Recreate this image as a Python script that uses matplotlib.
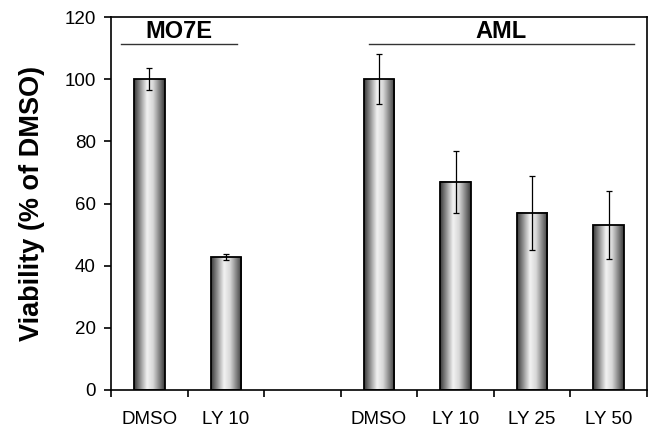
import numpy as np
import matplotlib.pyplot as plt
from matplotlib.colors import LinearSegmentedColormap

plt.rcParams['font.family'] = ['Liberation Sans', 'DejaVu Sans']

# data
labels = ['DMSO', 'LY 10', 'DMSO', 'LY 10', 'LY 25', 'LY 50']
pos = [0, 1, 3, 4, 5, 6]
viability = [100, 42.7, 100, 67, 57, 53]
err = [3.5, 1.0, 8, 10, 12, 11]
groups = ['MO7E', 'AML']
group_span = [(-0.37, 1.14), (2.87, 6.33)]

fig = plt.figure(figsize=(6.56, 4.33), dpi=100)
ax = fig.add_axes([111/656, 1-390/433, 536/656, 373/433])

# cylinder-like shading for the bars
cmap = LinearSegmentedColormap.from_list('cyl', [(0, '#3a3a3a'), (0.18, '#8a8a8a'), (0.42, '#f2f2f2'),
                                                 (0.62, '#d8d8d8'), (0.85, '#7a7a7a'), (1, '#3a3a3a')])
grad = np.linspace(0, 1, 64).reshape(1, -1)
w = 0.4
for x, v in zip(pos, viability):
    ax.imshow(grad, cmap=cmap, extent=(x - w/2, x + w/2, 0, v), aspect='auto', zorder=2)
ax.bar(pos, viability, width=w, fill=False, edgecolor='black', linewidth=1.3, zorder=3)
ax.errorbar(pos, viability, yerr=err, fmt='none', ecolor='black', elinewidth=0.9,
            capsize=2, capthick=0.9, zorder=4)

for g, (a, b) in zip(groups, group_span):
    ax.plot([a, b], [111.3, 111.3], color='#333333', lw=1)
    ax.text((a + b)/2, 115.2, g, ha='center', va='center', fontsize=17, fontweight='bold')

ax.set_xlim(-0.5, 6.5)
ax.set_ylim(0, 120)
ax.set_yticks(range(0, 121, 20))
ax.set_xticks(pos)
ax.set_xticklabels(labels, fontsize=13.5)
ax.set_xticks(np.arange(-0.5, 7, 1), minor=True)
ax.tick_params(axis='x', which='major', length=0, pad=15)
ax.tick_params(axis='x', which='minor', length=5, direction='out', width=1.2)
ax.tick_params(axis='y', length=5, width=1.2, labelsize=13.5, pad=6)
for s in ax.spines.values():
    s.set_linewidth(1.2)
ax.set_ylabel('Viability (% of DMSO)', fontsize=19.5, fontweight='bold', labelpad=14)

plt.savefig('out.png', dpi=100)
